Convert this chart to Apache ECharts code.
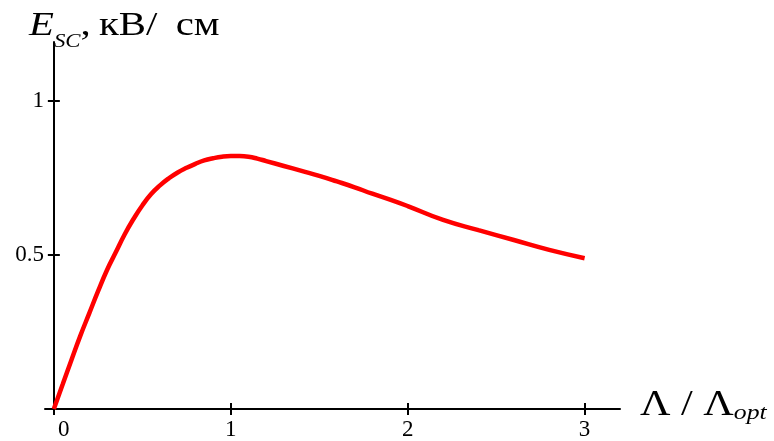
<!DOCTYPE html>
<html>
<head>
<meta charset="utf-8">
<title>E_SC vs Λ/Λopt</title>
<script src="https://cdn.jsdelivr.net/npm/echarts@6/dist/echarts.min.js"></script>
<style>
  html, body { margin: 0; padding: 0; background: #fff; }
  #chart { width: 774px; height: 441px; }
</style>
</head>
<body>
<div id="chart"></div>
<script>
// Λ/Λopt values and E_SC (кВ/см)
var lambdaRatio = [0, 0.05, 0.1, 0.15, 0.2, 0.25, 0.3, 0.35, 0.4, 0.45, 0.5, 0.55, 0.6, 0.65, 0.7, 0.75, 0.8,
    0.85, 0.9, 0.95, 1.0, 1.05, 1.1, 1.15, 1.2, 1.3, 1.4, 1.5, 1.6, 1.7, 1.8, 1.9, 2.0, 2.2, 2.4, 2.6, 2.8, 3.0];
var fieldSC = [0, 0.08, 0.16, 0.238, 0.31, 0.382, 0.45, 0.508, 0.566, 0.616, 0.66, 0.697, 0.725, 0.748, 0.767, 0.782, 0.795,
    0.806, 0.813, 0.818, 0.82, 0.82, 0.818, 0.812, 0.804, 0.788, 0.772, 0.756, 0.738, 0.719, 0.698, 0.679, 0.658, 0.613, 0.58, 0.548, 0.516, 0.489];
var xTicks = [0, 1, 2, 3];
var yTicks = [0.5, 1];

var myChart = echarts.init(document.getElementById('chart'));

var seriesData = lambdaRatio.map(function (x, i) { return [x, fieldSC[i]]; });

var font = 'Liberation Serif, Times New Roman, serif';
var axisColor = '#000';

var option = {
    backgroundColor: '#fff',
    animation: false,
    grid: { left: 45, right: 154, top: 42, bottom: 31, containLabel: false },
    xAxis: [
        {
            type: 'value', min: -0.05, max: 3.2, position: 'bottom',
            axisLine: { show: true, onZero: true, lineStyle: { color: axisColor, width: 2 } },
            axisTick: { show: true, inside: false, length: 6, customValues: xTicks, lineStyle: { color: axisColor, width: 2 } },
            axisLabel: {
                show: true, customValues: xTicks, margin: 9,
                color: '#000', fontFamily: font, fontSize: 23,
                formatter: function (v) { return v === 0 ? '{z|0}' : String(v); },
                rich: { z: { fontFamily: font, fontSize: 23, color: '#000', padding: [0, 0, 0, 20] } }
            },
            splitLine: { show: false }
        },
        {   // second copy only for the inner half of the crossing ticks
            type: 'value', min: -0.05, max: 3.2, position: 'bottom',
            axisLine: { show: false },
            axisTick: { show: true, inside: true, length: 6, customValues: [1, 2, 3], lineStyle: { color: axisColor, width: 2 } },
            axisLabel: { show: false },
            splitLine: { show: false }
        }
    ],
    yAxis: [
        {
            type: 'value', min: 0, max: 1.19, position: 'left',
            axisLine: { show: true, onZero: true, lineStyle: { color: axisColor, width: 2 } },
            axisTick: { show: true, inside: false, length: 6, customValues: yTicks, lineStyle: { color: axisColor, width: 2 } },
            axisLabel: { show: true, customValues: yTicks, margin: 1, color: '#000', fontFamily: font, fontSize: 23 },
            splitLine: { show: false }
        },
        {
            type: 'value', min: 0, max: 1.19, position: 'left',
            axisLine: { show: false, onZero: true },
            axisTick: { show: true, inside: true, length: 6, customValues: yTicks, lineStyle: { color: axisColor, width: 2 } },
            axisLabel: { show: false },
            splitLine: { show: false }
        }
    ],
    graphic: [
        {
            type: 'text', left: 29, top: 9, silent: true, scaleX: 1.2,
            style: {
                text: '{e|E}{s|SC}{n|,\u2009кВ/ \u2009см}',
                rich: {
                    e: { fontFamily: font, fontSize: 34, fontStyle: 'italic', fill: '#000', verticalAlign: 'bottom', padding: [0, 0, 8, 0] },
                    s: { fontFamily: font, fontSize: 19, fontStyle: 'italic', fill: '#000', verticalAlign: 'bottom' },
                    n: { fontFamily: font, fontSize: 34, fill: '#000', verticalAlign: 'bottom', padding: [0, 0, 8, 0] }
                }
            }
        },
        {
            type: 'text', left: 640, top: 388, silent: true, scaleX: 1.17,
            style: {
                text: '{l|Λ / Λ}{s|opt}',
                rich: {
                    l: { fontFamily: font, fontSize: 36, fill: '#000', verticalAlign: 'bottom', padding: [0, 0, 0, 0] },
                    s: { fontFamily: font, fontSize: 22, fontStyle: 'italic', fill: '#000', verticalAlign: 'bottom' }
                }
            }
        }
    ],
    series: [
        {
            type: 'line',
            xAxisIndex: 0,
            yAxisIndex: 0,
            data: seriesData,
            smooth: 0.5,
            showSymbol: false,
            lineStyle: { color: '#ff0000', width: 4.5 }
        }
    ]
};
myChart.setOption(option);
window.addEventListener('resize', function () {
    myChart.resize();
});
</script>
</body>
</html>
